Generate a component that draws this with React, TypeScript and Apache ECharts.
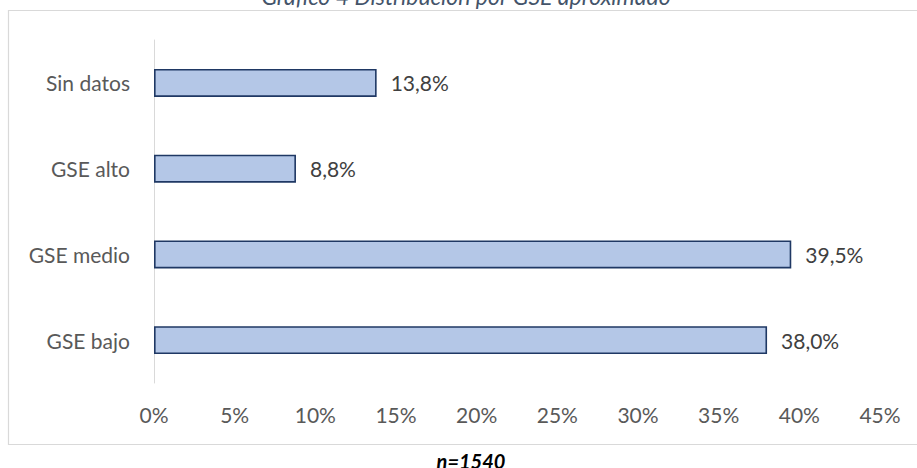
import React, { useEffect, useRef } from "react";
import * as echarts from "echarts";

const categories = ["GSE bajo", "GSE medio", "GSE alto", "Sin datos"];
const values = [38.0, 39.5, 8.8, 13.8];
const valueLabels = ["38,0%", "39,5%", "8,8%", "13,8%"];
const titleText = "Gráfico 4 Distribución por GSE aproximado";
const footText = "n=1540";

export default function App() {
  const ref = useRef<HTMLDivElement>(null);
  useEffect(() => {
    if (!ref.current) return;
    const chart = echarts.init(ref.current, null, { renderer: "svg" });
    const font = "Lato, 'Open Sans', sans-serif";
    chart.setOption({
      animation: false,
      backgroundColor: "#ffffff",
      grid: { left: 154, right: 37, top: 40, bottom: 85, containLabel: false },
      xAxis: {
        type: "value",
        min: 0,
        max: 45,
        interval: 5,
        axisLine: { show: false },
        axisTick: { show: false },
        splitLine: { show: false },
        axisLabel: {
          formatter: (v: number) => `${v}%`,
          color: "#595959",
          fontSize: 21,
          fontFamily: font,
          margin: 21,
        },
      },
      yAxis: {
        type: "category",
        data: categories,
        axisLine: { show: true, lineStyle: { color: "#D9D9D9", width: 1 } },
        axisTick: { show: false },
        axisLabel: {
          color: "#595959",
          fontSize: 21,
          fontFamily: font,
          margin: 24,
        },
      },
      series: [
        {
          type: "bar",
          data: values,
          barWidth: 28,
          itemStyle: { color: "#B4C7E7", borderColor: "#1F3864", borderWidth: 1.6 },
          label: {
            show: true,
            position: "right",
            distance: 14,
            color: "#404040",
            fontSize: 21,
            fontFamily: font,
            formatter: (p: any) => valueLabels[p.dataIndex],
          },
        },
      ],
      graphic: [
        {
          type: "rect",
          shape: { x: 8.5, y: 10.5, width: 920, height: 434 },
          style: { fill: "none", stroke: "#D9D9D9", lineWidth: 1.2 },
          silent: true,
        },
        {
          type: "text",
          x: 466,
          y: -4,
          style: {
            text: titleText,
            fill: "#44546A",
            fontSize: 23,
            fontStyle: "italic",
            fontFamily: font,
            align: "center",
            verticalAlign: "middle",
          },
        },
        {
          type: "text",
          x: 471,
          y: 461,
          style: {
            text: footText,
            fill: "#000000",
            fontSize: 20,
            fontStyle: "italic",
            fontWeight: "bold",
            fontFamily: font,
            align: "center",
            verticalAlign: "middle",
          },
        },
      ],
    });
    return () => chart.dispose();
  }, []);
  return (
    <div
      ref={ref}
      style={{ position: "fixed", left: 0, top: 0, width: 917, height: 468 }}
    />
  );
}
